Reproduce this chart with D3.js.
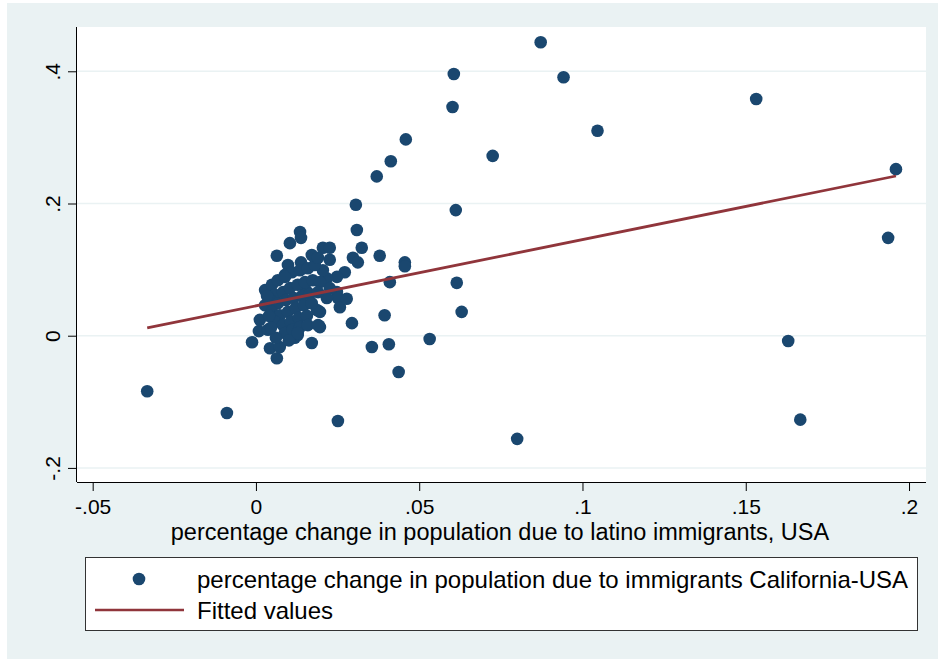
<!DOCTYPE html>
<html>
<head>
<meta charset="utf-8">
<title>Immigration scatter</title>
<style>
  body { margin: 0; background: #fff; }
  text { font-family: "Liberation Sans", Arial, sans-serif; fill: #000; }
</style>
</head>
<body>
<script src="https://cdn.jsdelivr.net/npm/d3@7"></script>
<script>

// x: percentage change in population due to latino immigrants, USA
// y: percentage change in population due to immigrants California-USA
var xVals = [
  -0.0333, -0.0089, 0.0251, 0.0800, 0.0872, 0.0942, 0.1046, 0.1532, 0.1960, 0.1936,
  0.1630, 0.1667, 0.0606, 0.0602, 0.0725, 0.0612, 0.0615, 0.0630, 0.0532, 0.0459,
  0.0413, 0.0370, 0.0306,
  0.0135, 0.0138, 0.0104, 0.0064, 0.0098, 0.0138, 0.0205, 0.0226, 0.0309, 0.0324,
  0.0379, 0.0456, 0.0456, 0.0226, 0.0297, 0.0312, 0.0272, 0.0248, 0.0217, 0.0205,
  0.0226, 0.0248, 0.0251, 0.0257, 0.0278, 0.0217, 0.0410, 0.0394, 0.0294, 0.0355,
  0.0407, 0.0437, 0.0196, 0.0196, 0.0187, 0.0193, 0.0171, -0.0012, 0.0043, 0.0064,
  0.0073, 0.0119, 0.0128, 0.0009, 0.0012, 0.0028, 0.0028, 0.0153,
  0.0049, 0.0067, 0.0089, 0.0110, 0.0135, 0.0159, 0.0180, 0.0171, 0.0190, 0.0058,
  0.0083, 0.0104, 0.0128, 0.0150, 0.0174, 0.0196, 0.0043, 0.0067, 0.0092, 0.0116,
  0.0141, 0.0165, 0.0190, 0.0049, 0.0073, 0.0098, 0.0122, 0.0147, 0.0171, 0.0058,
  0.0083, 0.0107, 0.0131, 0.0156, 0.0089, 0.0113, 0.0135, 0.0037, 0.0061, 0.0101,
  0.0159, 0.0089, 0.0190, 0.0128, 0.0034, 0.0040, 0.0046
];
var yVals = [
  -0.084, -0.117, -0.129, -0.156, 0.444, 0.391, 0.310, 0.358, 0.252, 0.148,
  -0.008, -0.127, 0.396, 0.346, 0.272, 0.190, 0.080, 0.036, -0.005, 0.297,
  0.264, 0.241, 0.198,
  0.157, 0.148, 0.140, 0.121, 0.107, 0.111, 0.133, 0.133, 0.160, 0.133,
  0.121, 0.111, 0.105, 0.115, 0.118, 0.111, 0.096, 0.089, 0.087, 0.099,
  0.072, 0.066, 0.057, 0.043, 0.056, 0.057, 0.081, 0.031, 0.019, -0.017,
  -0.013, -0.055, 0.036, 0.013, 0.039, 0.015, -0.011, -0.010, -0.019, -0.034,
  -0.017, -0.003, 0.001, 0.007, 0.024, 0.046, 0.069, 0.069,
  0.077, 0.084, 0.092, 0.096, 0.099, 0.102, 0.107, 0.122, 0.118, 0.062,
  0.066, 0.072, 0.077, 0.081, 0.084, 0.081, 0.054, 0.049, 0.054, 0.057,
  0.060, 0.063, 0.066, 0.036, 0.031, 0.036, 0.042, 0.046, 0.049, 0.021,
  0.016, 0.021, 0.027, 0.030, 0.004, 0.009, 0.013, 0.009, -0.003, -0.007,
  0.016, 0.089, 0.016, 0.004, 0.060, 0.030, 0.012
];

// fitted values line, read at the two ends
var fitX = [-0.0333, 0.1960];
var fitY = [0.0117, 0.2416];

var xTicks = [-0.05, 0, 0.05, 0.1, 0.15, 0.2];
var xTickLabels = ["-.05", "0", ".05", ".1", ".15", ".2"];
var yTicks = [-0.2, 0, 0.2, 0.4];
var yTickLabels = ["-.2", "0", ".2", ".4"];

var xTitle = "percentage change in population due to latino immigrants, USA";
var legendLabels = ["percentage change in population due to immigrants California-USA", "Fitted values"];

var width = 938, height = 659;
var plot = { left: 77, right: 926, top: 27, bottom: 482 };
var navy = "#1a476f", maroon = "#90353b", bg = "#eaf2f3";

var svg = d3.select("body").append("svg")
  .attr("width", width)
  .attr("height", height);

// graph region
svg.append("rect")
  .attr("x", 7).attr("y", 3)
  .attr("width", width - 7).attr("height", height - 3)
  .attr("fill", bg);

svg.append("rect")
  .attr("x", plot.left).attr("y", plot.top)
  .attr("width", plot.right - plot.left).attr("height", plot.bottom - plot.top)
  .attr("fill", "#fff");

var x = d3.scaleLinear().domain([-0.0548, 0.2052]).range([plot.left, plot.right]);
var y = d3.scaleLinear().domain([-0.2213, 0.467]).range([plot.bottom, plot.top]);

// grid
svg.append("g").selectAll("line")
  .data(yTicks)
  .enter().append("line")
  .attr("x1", plot.left).attr("x2", plot.right)
  .attr("y1", function(d) { return y(d); })
  .attr("y2", function(d) { return y(d); })
  .attr("stroke", bg)
  .attr("stroke-width", 1.5);

// axes
var xAxis = svg.append("g")
  .attr("transform", "translate(0," + plot.bottom + ")")
  .call(d3.axisBottom(x).tickValues(xTicks).tickSize(9)
    .tickFormat(function(d, i) { return xTickLabels[i]; }));
xAxis.attr("font-family", null);
xAxis.select(".domain").attr("stroke", "#000").attr("d", "M" + plot.left + ",0.5H" + plot.right);
xAxis.selectAll(".tick line").attr("stroke", "#000");
xAxis.selectAll(".tick text")
  .attr("y", 32).attr("dy", 0)
  .style("font-size", "21px");

var yAxis = svg.append("g")
  .attr("transform", "translate(" + plot.left + ",0)")
  .call(d3.axisLeft(y).tickValues(yTicks).tickSize(9)
    .tickFormat(function(d, i) { return yTickLabels[i]; }));
yAxis.attr("font-family", null);
yAxis.select(".domain").attr("stroke", "#000").attr("d", "M-0.5," + plot.top + "V" + plot.bottom);
yAxis.selectAll(".tick line").attr("stroke", "#000");
yAxis.selectAll(".tick text")
  .attr("x", null).attr("dy", null)
  .attr("text-anchor", "middle")
  .attr("transform", "translate(-17,0) rotate(-90)")
  .style("font-size", "21px");

// points
svg.append("g").selectAll("circle")
  .data(d3.range(xVals.length))
  .enter().append("circle")
  .attr("cx", function(i) { return x(xVals[i]); })
  .attr("cy", function(i) { return y(yVals[i]); })
  .attr("r", 6.3)
  .attr("fill", navy);

// fitted line
svg.append("path")
  .datum(d3.range(fitX.length))
  .attr("fill", "none")
  .attr("stroke", maroon)
  .attr("stroke-width", 2.8)
  .attr("d", d3.line()
    .x(function(i) { return x(fitX[i]); })
    .y(function(i) { return y(fitY[i]); }));

// axis title
svg.append("text")
  .attr("x", 500)
  .attr("y", 540)
  .attr("text-anchor", "middle")
  .style("font-size", "23.5px")
  .text(xTitle);

// legend
var legend = svg.append("g");
legend.append("rect")
  .attr("x", 85.5).attr("y", 557.5)
  .attr("width", 832).attr("height", 73)
  .attr("fill", "#fff")
  .attr("stroke", "#333");
legend.append("circle")
  .attr("cx", 139).attr("cy", 579)
  .attr("r", 6.3)
  .attr("fill", navy);
legend.append("line")
  .attr("x1", 95).attr("x2", 184)
  .attr("y1", 610).attr("y2", 610)
  .attr("stroke", maroon)
  .attr("stroke-width", 2.5);
legend.selectAll("text.lab")
  .data(legendLabels)
  .enter().append("text")
  .attr("class", "lab")
  .attr("x", 197)
  .attr("y", function(d, i) { return 588 + i * 31; })
  .style("font-size", "24px")
  .text(function(d) { return d; });

</script>
</body>
</html>
